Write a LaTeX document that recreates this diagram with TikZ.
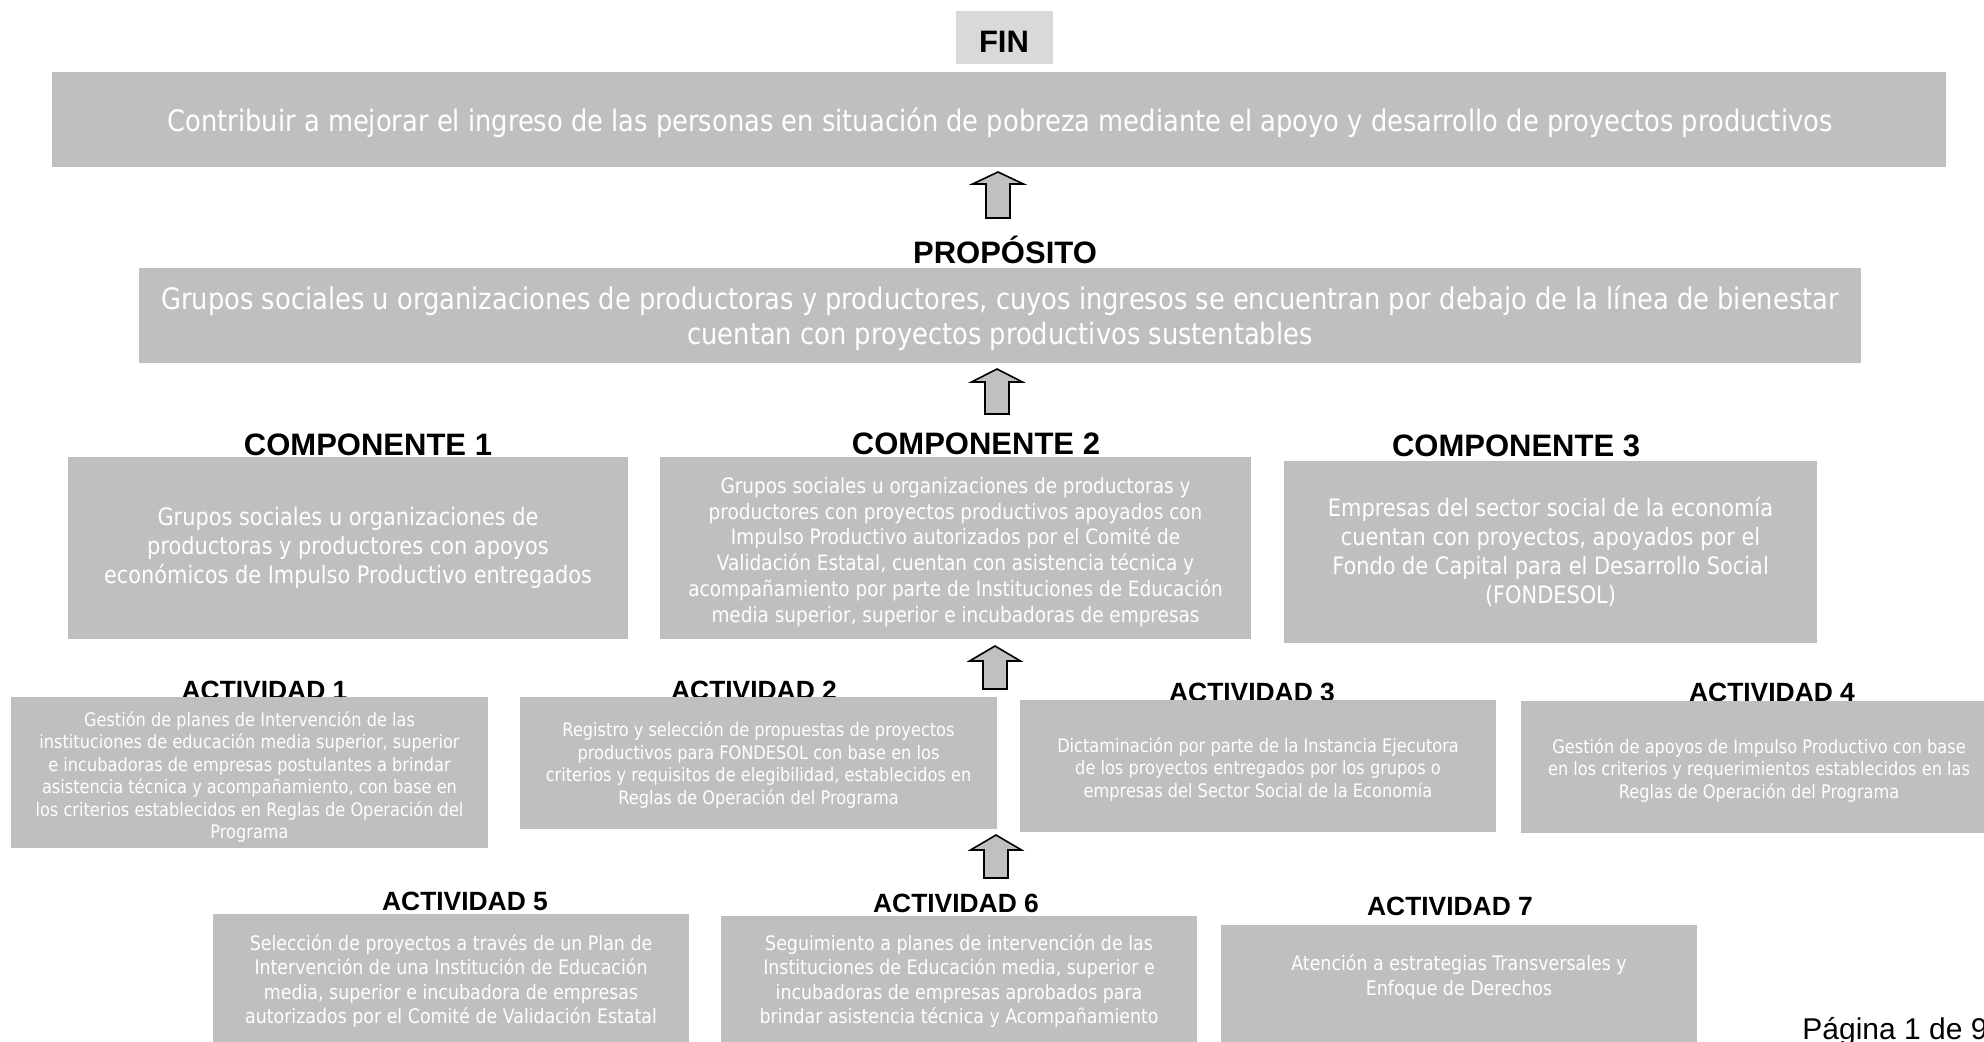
\documentclass[tikz,border=0pt]{standalone}
\usepackage{fontspec}
\setmainfont{Liberation Sans}
\newfontfamily\tah[FakeStretch=0.87]{DejaVu Sans}
\usetikzlibrary{calc}
\definecolor{boxgray}{HTML}{BFBFBF}
\definecolor{labgray}{HTML}{D9D9D9}
\definecolor{arrgray}{HTML}{C0C0C0}
\tikzset{
  box/.style={fill=boxgray, draw=none, inner sep=0pt, outer sep=0pt, align=center, text=white},
  bigtxt/.style={font=\tah\fontsize{14.8}{17.6}\selectfont},
  comptxt/.style={font=\tah\fontsize{12}{14.5}\selectfont},
  comptxtsm/.style={font=\tah\fontsize{10.6}{12.9}\selectfont},
  acttxt/.style={font=\tah\fontsize{9.3}{11.25}\selectfont},
  acttxtb/.style={font=\tah\fontsize{10}{12.2}\selectfont},
  headbig/.style={font=\bfseries\fontsize{15.5}{18}\selectfont, anchor=base, inner sep=0pt},
  headact/.style={font=\bfseries\fontsize{13.2}{15}\selectfont, anchor=base, inner sep=0pt},
  arr/.style={fill=arrgray, draw=black, line width=0.8pt, line join=miter}
}
\newcommand\blockarrow[5]{% #1 name, #2 x, #3 tip y, #4 head base y, #5 bottom y
  \coordinate (#1) at (#2,#5);
  \draw[arr] ($(#1)+(-12,0)$) -- ($(#1)+(-12,#4-#5)$) -- ($(#1)+(-25.5,#4-#5)$)
    -- ($(#1)+(0,#3-#5)$) -- ($(#1)+(25.5,#4-#5)$) -- ($(#1)+(12,#4-#5)$)
    -- ($(#1)+(12,0)$) -- cycle;}
\begin{document}
\begin{tikzpicture}[x=0.5pt,y=-0.5pt]
\path[use as bounding box] (0,0) rectangle (1984,1041);
\clip (0,0) rectangle (1984,1041);

% FIN
\node[fill=labgray, inner sep=0pt, minimum width=48.5pt, minimum height=26.5pt] (finlab) at (1004.5,37.5) {};
\node[headbig] (fintxt) at (1004,52) {FIN};
\node[box, minimum width=947pt, minimum height=47.5pt] (fin) at (999,119.5) {};
\node[bigtxt, text=white, inner sep=0pt] (fint) at (1000,123)
  {Contribuir a mejorar el ingreso de las personas en situación de pobreza mediante el apoyo y desarrollo de proyectos productivos};
\blockarrow{a1}{998}{172}{184}{218}

% PROPOSITO
\node[headbig] (proplab) at (1005,263) {PROPÓSITO};
\node[box, minimum width=861pt, minimum height=47.5pt] (prop) at (1000,315.5) {};
\node[bigtxt, text=white, align=center, inner sep=0pt] (propt) at (1000,318)
  {Grupos sociales u organizaciones de productoras y productores, cuyos ingresos se encuentran por debajo de la línea de bienestar\\cuentan con proyectos productivos sustentables};
\blockarrow{a2}{997}{369}{382}{414}

% COMPONENTES
\node[headbig] (c1lab) at (368,455) {COMPONENTE 1};
\node[headbig] (c2lab) at (976,454) {COMPONENTE 2};
\node[headbig] (c3lab) at (1516,456) {COMPONENTE 3};
\node[box, comptxt, minimum width=280pt, minimum height=91pt] (c1) at (348,548)
  {Grupos sociales u organizaciones de\\productoras y productores con apoyos\\económicos de Impulso Productivo entregados};
\node[box, minimum width=295.5pt, minimum height=91pt] (c2) at (955.5,548) {};
\node[comptxtsm, text=white, align=center, inner sep=0pt] (c2t) at (955.5,552)
  {Grupos sociales u organizaciones de productoras y\\productores con proyectos productivos apoyados con\\Impulso Productivo autorizados por el Comité de\\Validación Estatal, cuentan con asistencia técnica y\\acompañamiento por parte de Instituciones de Educación\\media superior, superior e incubadoras de empresas};
\node[box, comptxt, minimum width=266.5pt, minimum height=91pt] (c3) at (1550.5,552)
  {Empresas del sector social de la economía\\cuentan con proyectos, apoyados por el\\Fondo de Capital para el Desarrollo Social\\(FONDESOL)};
\blockarrow{a3}{995}{646}{661}{689}

% ACTIVIDADES fila 1
\node[headact] (act1lab) at (264.5,699) {ACTIVIDAD 1};
\node[headact] (act2lab) at (754,699) {ACTIVIDAD 2};
\node[headact] (act3lab) at (1252,701) {ACTIVIDAD 3};
\node[headact] (act4lab) at (1772,701) {ACTIVIDAD 4};
\node[box, minimum width=238.5pt, minimum height=75.5pt] (act1) at (249.5,772.5) {};
\node[acttxt, text=white, align=center, inner sep=0pt] (act1t) at (249.5,777)
  {Gestión de planes de Intervención de las\\instituciones de educación media superior, superior\\e incubadoras de empresas postulantes a brindar\\asistencia técnica y acompañamiento, con base en\\los criterios establecidos en Reglas de Operación del\\Programa};
\node[box, minimum width=238.5pt, minimum height=66pt] (act2) at (758.5,763) {};
\node[acttxt, text=white, align=center, inner sep=0pt] (act2t) at (758.5,765)
  {Registro y selección de propuestas de proyectos\\productivos para FONDESOL con base en los\\criterios y requisitos de elegibilidad, establecidos en\\Reglas de Operación del Programa};
\node[box, minimum width=238pt, minimum height=66pt] (act3) at (1258,766) {};
\node[acttxt, text=white, align=center, inner sep=0pt] (act3t) at (1258,769)
  {Dictaminación por parte de la Instancia Ejecutora\\de los proyectos entregados por los grupos o\\empresas del Sector Social de la Economía};
\node[box, minimum width=238pt, minimum height=66pt] (act4) at (1759,767) {};
\node[acttxt, text=white, align=center, inner sep=0pt] (act4t) at (1759,770)
  {Gestión de apoyos de Impulso Productivo con base\\en los criterios y requerimientos establecidos en las\\Reglas de Operación del Programa};
\blockarrow{a4}{996}{835}{850}{878}

% ACTIVIDADES fila 2
\node[headact] (act5lab) at (465,910) {ACTIVIDAD 5};
\node[headact] (act6lab) at (956,912) {ACTIVIDAD 6};
\node[headact] (act7lab) at (1450,915) {ACTIVIDAD 7};
\node[box, acttxtb, minimum width=238pt, minimum height=67pt] (act5) at (451,981)
  {Selección de proyectos a través de un Plan de\\Intervención de una Institución de Educación\\media, superior e incubadora de empresas\\autorizados por el Comité de Validación Estatal};
\node[box, acttxtb, minimum width=238pt, minimum height=65pt] (act6) at (959,981)
  {Seguimiento a planes de intervención de las\\Instituciones de Educación media, superior e\\incubadoras de empresas aprobados para\\brindar asistencia técnica y Acompañamiento};
\node[box, minimum width=238pt, minimum height=67.5pt] (act7) at (1459,992.5) {};
\node[acttxtb, text=white, align=center, inner sep=0pt] (act7t) at (1459,977)
  {Atención a estrategias Transversales y\\Enfoque de Derechos};

% pie de pagina
\node[font=\fontsize{15}{17}\selectfont, anchor=base west, inner sep=0pt] (pagina) at (1802,1039) {Página 1 de 9};
\end{tikzpicture}
\end{document}
